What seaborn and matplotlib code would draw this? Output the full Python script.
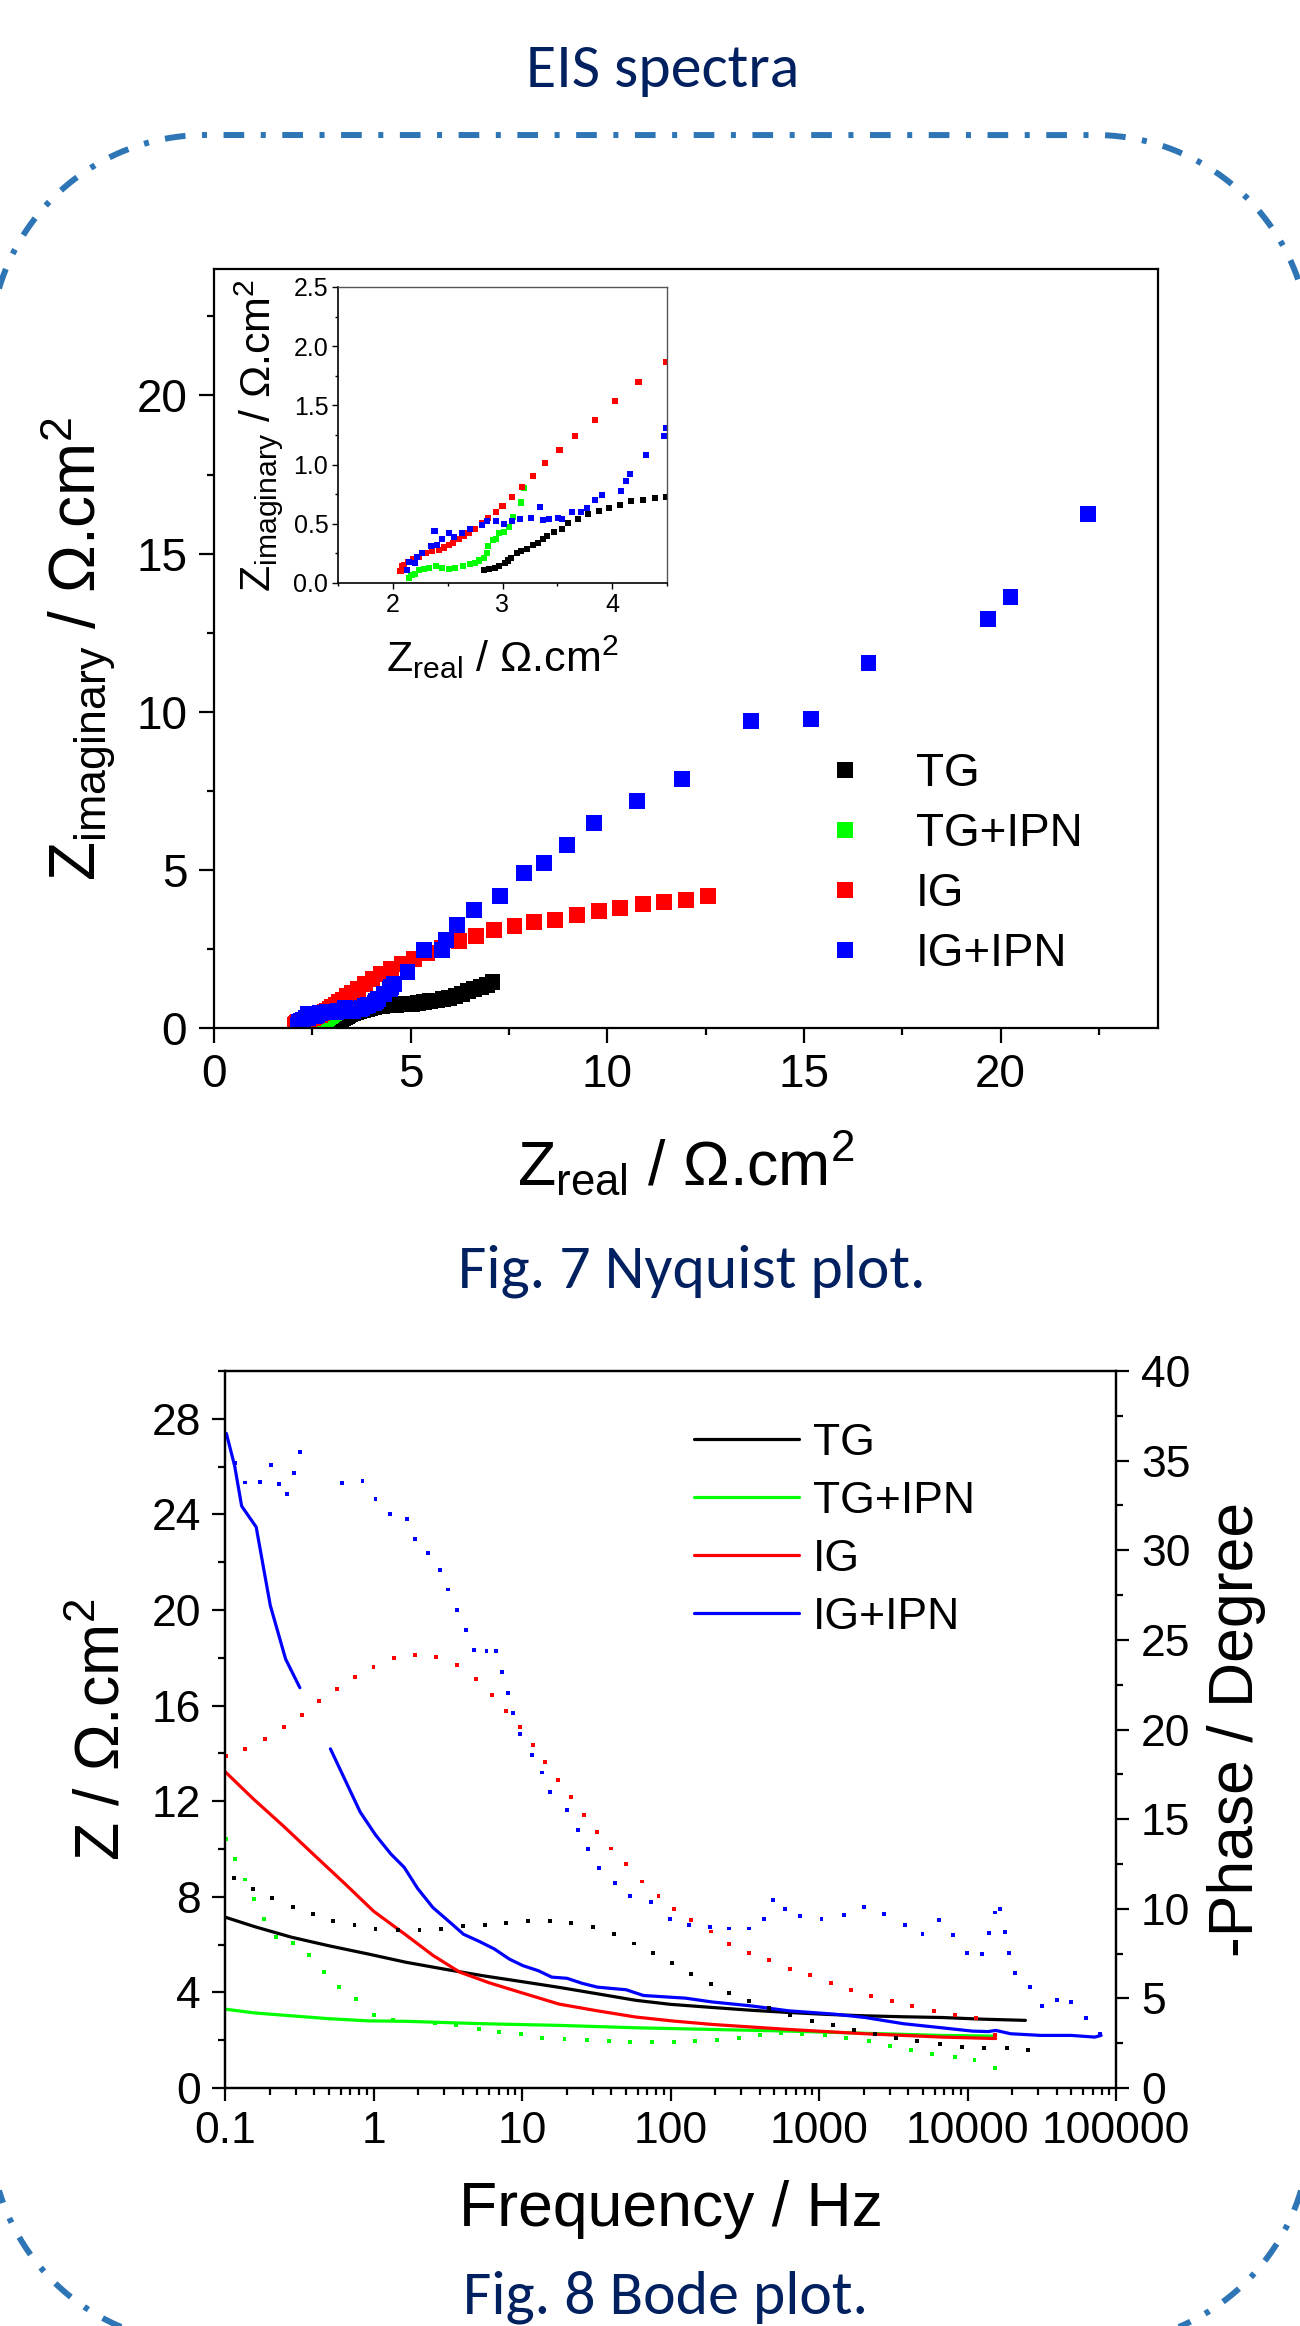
import numpy as np
import pandas as pd
import matplotlib
matplotlib.use("Agg")
import matplotlib.pyplot as plt
import seaborn as sns
from matplotlib.lines import Line2D
from matplotlib.ticker import MultipleLocator, FixedLocator, FixedFormatter, LogLocator, NullFormatter, FormatStrFormatter
from matplotlib import font_manager

# ---------------- data: Nyquist (Z real / Z imaginary, ohm.cm2) ----------------
samples = ["TG", "TG+IPN", "IG", "IG+IPN"]
colors = {"TG": "#000000", "TG+IPN": "#00FF00", "IG": "#FF0000", "IG+IPN": "#0000FF"}

tg_zre = [2.83, 2.88, 2.93, 2.97, 3.02, 3.05, 3.08, 3.13, 3.17, 3.22, 3.28, 3.32, 3.37, 3.41, 3.47,
          3.54, 3.60, 3.69, 3.78, 3.88, 3.97, 4.07, 4.17, 4.28, 4.39, 4.49, 4.62, 4.76, 4.90, 5.04,
          5.19, 5.34, 5.50, 5.66, 5.82, 5.98, 6.14, 6.30, 6.46, 6.62, 6.78, 6.94, 7.08]
tg_zim = [0.11, 0.12, 0.13, 0.14, 0.17, 0.19, 0.21, 0.25, 0.27, 0.29, 0.32, 0.34, 0.37, 0.40, 0.43,
          0.46, 0.51, 0.54, 0.58, 0.61, 0.63, 0.66, 0.69, 0.70, 0.72, 0.73, 0.74, 0.75, 0.76, 0.77,
          0.79, 0.81, 0.84, 0.87, 0.91, 0.96, 1.02, 1.09, 1.16, 1.23, 1.30, 1.37, 1.44]

tgipn_zre = [2.15, 2.17, 2.20, 2.24, 2.28, 2.33, 2.39, 2.45, 2.51, 2.57, 2.64, 2.70, 2.75, 2.79, 2.83,
             2.86, 2.87, 2.91, 2.94, 2.97, 3.01, 3.06, 3.10, 3.17, 3.20]
tgipn_zim = [0.04, 0.07, 0.08, 0.11, 0.12, 0.13, 0.14, 0.13, 0.12, 0.13, 0.14, 0.16, 0.17, 0.19, 0.21,
             0.25, 0.31, 0.36, 0.37, 0.42, 0.43, 0.47, 0.56, 0.68, 0.80]

ig_zre = [2.07, 2.08, 2.10, 2.14, 2.18, 2.24, 2.30, 2.36, 2.42, 2.47, 2.51, 2.55, 2.60, 2.65, 2.69,
          2.75, 2.81, 2.87, 2.94, 3.00, 3.09, 3.18, 3.28, 3.39, 3.52, 3.66, 3.84, 4.03, 4.24, 4.49,
          4.77, 5.08, 5.42, 5.80, 6.23, 6.67, 7.11, 7.64, 8.14, 8.68, 9.24, 9.79, 10.32, 10.90, 11.45,
          12.00, 12.57]
ig_zim = [0.10, 0.14, 0.15, 0.18, 0.20, 0.22, 0.25, 0.27, 0.28, 0.30, 0.32, 0.34, 0.37, 0.40, 0.42,
          0.46, 0.51, 0.55, 0.60, 0.65, 0.73, 0.81, 0.90, 1.01, 1.12, 1.24, 1.38, 1.54, 1.70, 1.87,
          2.03, 2.19, 2.36, 2.54, 2.76, 2.92, 3.10, 3.23, 3.35, 3.42, 3.58, 3.70, 3.78, 3.91, 3.97,
          4.05, 4.16]

igipn_zre = [2.13, 2.15, 2.20, 2.22, 2.27, 2.35, 2.38, 2.40, 2.45, 2.51, 2.56, 2.63, 2.70, 2.81, 2.86,
             2.94, 3.01, 3.09, 3.16, 3.26, 3.34, 3.37, 3.42, 3.51, 3.54, 3.63, 3.72, 3.77, 3.84, 3.91,
             4.08, 4.13, 4.16, 4.31, 4.47, 4.49, 4.58, 4.92, 5.35, 5.79, 5.90, 6.18, 6.60, 7.26, 7.88,
             8.39, 8.97, 9.66, 10.76, 11.90, 13.66, 15.19, 16.64, 19.68, 20.25, 22.23]
igipn_zim = [0.11, 0.18, 0.17, 0.22, 0.25, 0.31, 0.44, 0.32, 0.37, 0.42, 0.39, 0.42, 0.46, 0.49, 0.52,
             0.52, 0.50, 0.52, 0.54, 0.55, 0.64, 0.53, 0.54, 0.55, 0.54, 0.60, 0.60, 0.63, 0.70, 0.74,
             0.78, 0.86, 0.92, 1.08, 1.24, 1.31, 1.39, 1.78, 2.47, 2.47, 2.78, 3.26, 3.73, 4.16, 4.90,
             5.21, 5.78, 6.48, 7.19, 7.87, 9.72, 9.77, 11.54, 12.93, 13.64, 16.26]

# ---------------- data: Bode (log10 frequency / Hz) ----------------
# |Z| (ohm.cm2), solid lines
tg_mod_logf = [-1.0, -0.8, -0.553, -0.3, -0.038, 0.219, 0.48, 0.734, 1.0, 1.25, 1.5, 1.765, 2.0, 2.28,
               2.55, 2.795, 3.05, 3.31, 3.57, 3.826, 4.1, 4.39]
tg_mod = [7.15, 6.75, 6.31, 5.95, 5.61, 5.26, 4.97, 4.70, 4.45, 4.21, 3.95, 3.67, 3.50, 3.37,
          3.25, 3.16, 3.08, 3.02, 2.98, 2.95, 2.88, 2.83]

tgipn_mod_logf = [-1.0, -0.8, -0.553, -0.3, -0.038, 0.219, 0.734, 1.25, 1.765, 2.28, 2.795, 3.31, 3.826, 4.19]
tgipn_mod = [3.30, 3.14, 3.02, 2.90, 2.81, 2.79, 2.69, 2.62, 2.52, 2.45, 2.38, 2.29, 2.20, 2.17]

ig_mod_logf = [-1.0, -0.81, -0.605, -0.4, -0.193, 0.0, 0.219, 0.4, 0.58, 0.78, 0.99, 1.25, 1.507,
               1.765, 2.022, 2.28, 2.55, 2.795, 3.05, 3.31, 3.57, 3.826, 4.19]
ig_mod = [13.24, 12.1, 10.95, 9.75, 8.55, 7.4, 6.4, 5.55, 4.85, 4.4, 4.0, 3.51, 3.23,
          2.97, 2.80, 2.66, 2.55, 2.45, 2.36, 2.27, 2.20, 2.13, 2.07]

igipn_mod_logf_a = [-0.991, -0.935, -0.888, -0.79, -0.695, -0.592, -0.496]
igipn_mod_a = [27.39, 26.03, 24.35, 23.47, 20.19, 17.95, 16.75]
igipn_mod_logf_b = [-0.29, -0.193, -0.09, 0.0135, 0.117, 0.207, 0.297, 0.4, 0.504, 0.607, 0.71, 0.813,
                    0.916, 1.006, 1.109, 1.2, 1.303, 1.405, 1.508, 1.702, 1.818, 2.1, 2.28, 2.537,
                    2.795, 3.104, 3.31, 3.568, 3.826, 4.032, 4.14, 4.19, 4.29, 4.495, 4.70, 4.856, 4.9]
igipn_mod_b = [14.19, 12.91, 11.55, 10.59, 9.79, 9.23, 8.35, 7.55, 6.99, 6.43, 6.14, 5.82,
               5.39, 5.12, 4.91, 4.64, 4.59, 4.38, 4.22, 4.11, 3.87, 3.76, 3.60, 3.44,
               3.23, 3.09, 2.95, 2.69, 2.52, 2.38, 2.36, 2.41, 2.27, 2.20, 2.20, 2.13, 2.20]

# -Phase (degree), dotted points
tg_ph_logf = [-0.94, -0.81, -0.682, -0.545, -0.406, -0.27, -0.128, 0.0135, 0.163, 0.31, 0.452, 0.601,
              0.748, 0.895, 1.04, 1.187, 1.328, 1.478, 1.62, 1.754, 1.882, 2.012, 2.14, 2.27, 2.393,
              2.527, 2.666, 2.805, 2.95, 3.094, 3.233, 3.377, 3.516, 3.66, 3.815, 3.965, 4.11, 4.263, 4.407]
tg_ph = [11.69, 11.12, 10.58, 10.09, 9.73, 9.34, 9.07, 8.87, 8.81, 8.81, 8.85, 9.02,
         9.07, 9.19, 9.3, 9.3, 9.19, 8.98, 8.59, 8.06, 7.53, 6.95, 6.37, 5.8, 5.3,
         4.87, 4.46, 4.08, 3.75, 3.49, 3.24, 3.0, 2.81, 2.63, 2.44, 2.31, 2.21, 2.21, 2.12]

tgipn_ph_logf = [-0.99, -0.93, -0.866, -0.805, -0.739, -0.656, -0.54, -0.433, -0.336, -0.23, -0.116,
                 0.002, 0.131, 0.27, 0.414, 0.554, 0.708, 0.848, 0.992, 1.136, 1.286, 1.44, 1.585,
                 1.729, 1.878, 2.022, 2.167, 2.316, 2.46, 2.6, 2.744, 2.888, 3.043, 3.182, 3.336,
                 3.475, 3.62, 3.764, 3.913, 4.047, 4.187]
tgipn_ph = [13.87, 12.76, 11.63, 10.56, 9.45, 8.4, 8.08, 7.44, 6.45, 5.66, 4.95,
            4.08, 3.8, 3.71, 3.61, 3.52, 3.28, 3.15, 3.0, 2.81, 2.74, 2.68, 2.63,
            2.59, 2.55, 2.59, 2.63, 2.68, 2.77, 2.96, 3.06, 3.0, 2.96, 2.81, 2.63,
            2.35, 2.12, 1.9, 1.71, 1.56, 1.09]

ig_ph_logf = [-0.99, -0.863, -0.729, -0.6, -0.481, -0.365, -0.244, -0.125, 0.0, 0.137, 0.277, 0.421,
              0.56, 0.689, 0.8, 0.895, 0.985, 1.071, 1.153, 1.243, 1.328, 1.418, 1.508, 1.6, 1.703,
              1.806, 1.919, 2.022, 2.14, 2.27, 2.393, 2.527, 2.666, 2.805, 2.939, 3.078, 3.217, 3.35,
              3.49, 3.629, 3.774, 3.913, 4.058, 4.187]
ig_ph = [18.52, 18.9, 19.48, 20.12, 20.83, 21.57, 22.26, 22.94, 23.5, 23.97, 24.18, 24.03,
         23.6, 22.83, 21.94, 21.04, 20.12, 19.16, 18.2, 17.2, 16.22, 15.25, 14.29, 13.36, 12.5,
         11.52, 10.73, 9.98, 9.36, 8.73, 8.05, 7.55, 7.12, 6.65, 6.29, 5.86, 5.49, 5.11,
         4.84, 4.55, 4.31, 4.08, 3.9, 2.96]

igipn_ph_logf = [-0.935, -0.863, -0.764, -0.69, -0.636, -0.584, -0.535, -0.496, -0.21, -0.074, 0.0135,
                 0.109, 0.225, 0.277, 0.367, 0.449, 0.504, 0.563, 0.62, 0.679, 0.761, 0.826, 0.864,
                 0.908, 0.942, 0.985, 1.065, 1.135, 1.191, 1.302, 1.374, 1.444, 1.516, 1.624, 1.727,
                 1.869, 1.998, 2.127, 2.264, 2.393, 2.527, 2.63, 2.692, 2.769, 2.872, 3.017, 3.166,
                 3.3, 3.439, 3.578, 3.697, 3.81, 3.903, 3.996, 4.099, 4.146, 4.187, 4.22, 4.253,
                 4.28, 4.32, 4.42, 4.5, 4.6, 4.7, 4.8, 4.89]
igipn_ph = [34.85, 33.78, 33.83, 34.78, 33.68, 33.14, 34.32, 35.47, 33.74, 33.87, 32.88,
            32.0, 31.76, 30.65, 29.83, 28.92, 27.81, 26.68, 25.57, 24.46, 24.39, 24.39, 23.22,
            22.04, 20.91, 19.74, 18.56, 17.6, 16.49, 15.49, 14.4, 13.34, 12.29, 11.43, 10.69,
            10.37, 9.45, 9.09, 8.99, 8.9, 8.9, 9.42, 10.5, 9.98, 9.57, 9.45, 9.66,
            10.11, 9.7, 9.1, 8.58, 9.36, 8.54, 7.55, 7.49, 8.67, 9.79, 9.98, 8.7,
            7.55, 6.42, 5.62, 4.55, 4.92, 4.78, 3.93, 3.0]

bode_xticks = [0.1, 1, 10, 100, 1000, 10000, 100000]
bode_xticklabels = ["0.1", "1", "10", "100", "1000", "10000", "100000"]

# ---------------- tables ----------------
nyq = pd.concat([
    pd.DataFrame({"zre": tg_zre, "zim": tg_zim, "sample": "TG"}),
    pd.DataFrame({"zre": tgipn_zre, "zim": tgipn_zim, "sample": "TG+IPN"}),
    pd.DataFrame({"zre": ig_zre, "zim": ig_zim, "sample": "IG"}),
    pd.DataFrame({"zre": igipn_zre, "zim": igipn_zim, "sample": "IG+IPN"}),
], ignore_index=True)

mod = pd.concat([
    pd.DataFrame({"logf": tg_mod_logf, "z": tg_mod, "sample": "TG", "seg": "TG0"}),
    pd.DataFrame({"logf": tgipn_mod_logf, "z": tgipn_mod, "sample": "TG+IPN", "seg": "TGIPN0"}),
    pd.DataFrame({"logf": ig_mod_logf, "z": ig_mod, "sample": "IG", "seg": "IG0"}),
    pd.DataFrame({"logf": igipn_mod_logf_a, "z": igipn_mod_a, "sample": "IG+IPN", "seg": "IGIPN0"}),
    pd.DataFrame({"logf": igipn_mod_logf_b, "z": igipn_mod_b, "sample": "IG+IPN", "seg": "IGIPN1"}),
], ignore_index=True)
mod["f"] = np.power(10.0, mod["logf"])

pha = pd.concat([
    pd.DataFrame({"logf": tg_ph_logf, "ph": tg_ph, "sample": "TG"}),
    pd.DataFrame({"logf": tgipn_ph_logf, "ph": tgipn_ph, "sample": "TG+IPN"}),
    pd.DataFrame({"logf": ig_ph_logf, "ph": ig_ph, "sample": "IG"}),
    pd.DataFrame({"logf": igipn_ph_logf, "ph": igipn_ph, "sample": "IG+IPN"}),
], ignore_index=True)
pha["f"] = np.power(10.0, pha["logf"])

# ---------------- style ----------------
sns.set_style("ticks")
plt.rcParams.update({
    "font.family": ["Liberation Sans", "DejaVu Sans"],
    "mathtext.fontset": "custom",
    "mathtext.rm": "Liberation Sans",
    "mathtext.it": "Liberation Sans",
    "mathtext.bf": "Liberation Sans:bold",
    "axes.edgecolor": "black",
    "axes.linewidth": 1.6,
    "text.color": "black",
    "axes.labelcolor": "black",
    "xtick.color": "black",
    "ytick.color": "black",
})
installed = {f.name for f in font_manager.fontManager.ttflist}
if "Carlito" in installed:
    cap_font, cap_size = "Carlito", 44.5
else:
    cap_font, cap_size = "Lato", 41
navy = "#002060"

W, H = 1300, 2326
fig = plt.figure(figsize=(W / 100, H / 100), dpi=100)


def frac(left, top, right, bottom):
    return [left / W, 1 - bottom / H, (right - left) / W, (bottom - top) / H]


# ---------------- Nyquist main ----------------
ax1 = fig.add_axes(frac(214, 269, 1158, 1028))
sns.scatterplot(data=nyq, x="zre", y="zim", hue="sample", hue_order=samples, palette=colors,
                marker="s", s=132, linewidth=0, edgecolor="none", legend=False, ax=ax1)
ax1.set_xlim(0, 24)
ax1.set_ylim(0, 24)
ax1.xaxis.set_major_locator(MultipleLocator(5))
ax1.xaxis.set_minor_locator(MultipleLocator(2.5))
ax1.yaxis.set_major_locator(MultipleLocator(5))
ax1.yaxis.set_minor_locator(MultipleLocator(2.5))
ax1.tick_params(which="major", direction="out", length=10.8, width=1.6, labelsize=33, top=False, right=False)
ax1.tick_params(which="minor", direction="out", length=5, width=1.6, top=False, right=False)
ax1.tick_params(axis="x", which="major", pad=7)
ax1.tick_params(axis="y", which="major", pad=8.5)
ax1.set_xlabel("Z$_{\\mathregular{real}}$ / \u03a9.cm$^{\\mathregular{2}}$", fontsize=45, labelpad=24)
ax1.set_ylabel("Z$_{\\mathregular{imaginary}}$ / \u03a9.cm$^{\\mathregular{2}}$", fontsize=46, labelpad=13)
for sp in ax1.spines.values():
    sp.set_linewidth(1.6)

leg_handles = [Line2D([], [], marker="s", linestyle="None", markersize=11.5, color=colors[k],
                      markeredgewidth=0) for k in samples]
ax1.legend(leg_handles, samples, loc="upper left", bbox_to_anchor=(799 / W, 1 - 752 / H),
           bbox_transform=fig.transFigure, frameon=False, fontsize=33, handlelength=2.0,
           handletextpad=0.55, labelspacing=0.35, borderpad=0, borderaxespad=0)

# ---------------- Nyquist inset ----------------
axi = fig.add_axes(frac(338, 287, 667, 583))
sns.scatterplot(data=nyq, x="zre", y="zim", hue="sample", hue_order=samples, palette=colors,
                marker="s", s=19, linewidth=0, edgecolor="none", legend=False, ax=axi)
axi.set_xlim(1.5, 4.5)
axi.set_ylim(0, 2.5)
axi.xaxis.set_major_locator(MultipleLocator(1))
axi.xaxis.set_minor_locator(MultipleLocator(0.5))
axi.yaxis.set_major_locator(MultipleLocator(0.5))
axi.yaxis.set_minor_locator(MultipleLocator(0.25))
axi.yaxis.set_major_formatter(FormatStrFormatter("%.1f"))
axi.tick_params(which="major", direction="out", length=4.5, width=1.0, labelsize=18, pad=2.5,
                top=False, right=False)
axi.tick_params(which="minor", direction="out", length=2.5, width=1.0, top=False, right=False)
axi.set_xlabel("Z$_{\\mathregular{real}}$ / \u03a9.cm$^{\\mathregular{2}}$", fontsize=31, labelpad=12)
axi.set_ylabel("Z$_{\\mathregular{imaginary}}$ / \u03a9.cm$^{\\mathregular{2}}$", fontsize=31, labelpad=6)
axi.spines["left"].set_linewidth(1.2)
axi.spines["bottom"].set_linewidth(1.2)
axi.spines["top"].set_linewidth(1.0)
axi.spines["right"].set_linewidth(1.0)
axi.spines["top"].set_color("#555555")
axi.spines["right"].set_color("#555555")

# ---------------- Bode ----------------
ax2 = fig.add_axes(frac(225, 1371, 1116, 2088))
ax2.set_xscale("log")
sns.lineplot(data=mod, x="f", y="z", hue="sample", hue_order=samples, palette=colors, units="seg",
             estimator=None, sort=False, linewidth=2.3, legend=False, ax=ax2)

ax3 = ax2.twinx()
sns.scatterplot(data=pha, x="f", y="ph", hue="sample", hue_order=samples, palette=colors,
                marker="s", s=8, linewidth=0, edgecolor="none", legend=False, ax=ax3)

ax2.set_xlim(0.1, 1e5)
ax2.set_ylim(0, 30)
ax3.set_ylim(0, 40)
ax2.xaxis.set_major_locator(FixedLocator(bode_xticks))
ax2.xaxis.set_major_formatter(FixedFormatter(bode_xticklabels))
ax2.xaxis.set_minor_locator(LogLocator(base=10, subs=np.arange(2, 10), numticks=20))
ax2.xaxis.set_minor_formatter(NullFormatter())
ax2.yaxis.set_major_locator(MultipleLocator(4))
ax2.yaxis.set_minor_locator(MultipleLocator(2))
ax2.tick_params(which="major", direction="out", length=9.4, width=1.6, labelsize=32, top=False, right=False)
ax2.tick_params(which="minor", direction="out", length=5, width=1.6, top=False, right=False)
ax2.tick_params(axis="x", which="major", pad=7)
ax2.tick_params(axis="y", which="major", pad=8)
ax2.set_xlabel("Frequency / Hz", fontsize=45, labelpad=20)
ax2.set_ylabel("Z / \u03a9.cm$^{\\mathregular{2}}$", fontsize=45, labelpad=14)

ax3.yaxis.set_major_locator(MultipleLocator(5))
ax3.yaxis.set_minor_locator(MultipleLocator(2.5))
ax3.tick_params(axis="y", which="major", direction="out", length=9.4, width=1.6, labelsize=32, pad=8.5,
                right=True, left=False, labelright=True, labelleft=False)
ax3.tick_params(axis="y", which="minor", direction="out", length=5, width=1.6, right=True, left=False)
ax3.set_ylabel("-Phase / Degree", fontsize=45, labelpad=12)
for a in (ax2, ax3):
    for sp in a.spines.values():
        sp.set_linewidth(1.6)

bode_handles = [Line2D([], [], color=colors[k], linewidth=2.3) for k in samples]
ax3.legend(bode_handles, samples, loc="upper left", bbox_to_anchor=(694 / W, 1 - 1423 / H),
           bbox_transform=fig.transFigure, frameon=False, fontsize=32, handlelength=2.36,
           handletextpad=0.32, labelspacing=0.38, borderpad=0, borderaxespad=0)

# ---------------- decoration: rounded dash-dot frame (only the on-canvas parts are drawn) ----------------
fr_r, fr_l, fr_rt, fr_t, fr_b = 215.0, -10.0, 1310.0, 135.0, 2344.0   # pixels, y from top


def _arc(cx, cy, a0, a1, n=240):
    t = np.radians(np.linspace(a0, a1, n))
    return np.column_stack([cx + fr_r * np.cos(t), cy + fr_r * np.sin(t)])


def _straight(p0, p1, n=600):
    return np.column_stack([np.linspace(p0[0], p1[0], n), np.linspace(p0[1], p1[1], n)])


outline = np.vstack([
    _straight((650, fr_b), (fr_l + fr_r, fr_b)),
    _arc(fr_l + fr_r, fr_b - fr_r, 90, 180),
    _straight((fr_l, fr_b - fr_r), (fr_l, fr_t + fr_r)),
    _arc(fr_l + fr_r, fr_t + fr_r, 180, 270),
    _straight((fr_l + fr_r, fr_t), (fr_rt - fr_r, fr_t)),
    _arc(fr_rt - fr_r, fr_t + fr_r, 270, 360),
    _straight((fr_rt, fr_t + fr_r), (fr_rt, fr_b - fr_r)),
    _arc(fr_rt - fr_r, fr_b - fr_r, 0, 90),
    _straight((fr_rt - fr_r, fr_b), (650, fr_b)),
])
vis = ((outline[:, 0] >= -4) & (outline[:, 0] <= W + 4) &
       (outline[:, 1] >= -4) & (outline[:, 1] <= H + 4))
idx = np.flatnonzero(vis)
runs = np.split(idx, np.flatnonzero(np.diff(idx) > 1) + 1)
for run in runs:
    if len(run) < 2:
        continue
    pts = outline[run]
    fig.add_artist(Line2D(pts[:, 0] / 100.0, (H - pts[:, 1]) / 100.0, transform=fig.dpi_scale_trans,
                          color="#2E75B6", linewidth=4.3, linestyle=(0, (3.46, 2.77, 0.84, 2.77)),
                          dash_capstyle="butt", zorder=0))

fig.text(663 / W, 1 - 87 / H, "EIS spectra", ha="center", va="baseline", fontsize=cap_size,
         color=navy, family=cap_font)
fig.text(692 / W, 1 - 1287 / H, "Fig. 7 Nyquist plot.", ha="center", va="baseline", fontsize=cap_size,
         color=navy, family=cap_font)
fig.text(666 / W, 1 - 2313 / H, "Fig. 8 Bode plot.", ha="center", va="baseline", fontsize=cap_size,
         color=navy, family=cap_font)

fig.savefig("out.png", dpi=100)
